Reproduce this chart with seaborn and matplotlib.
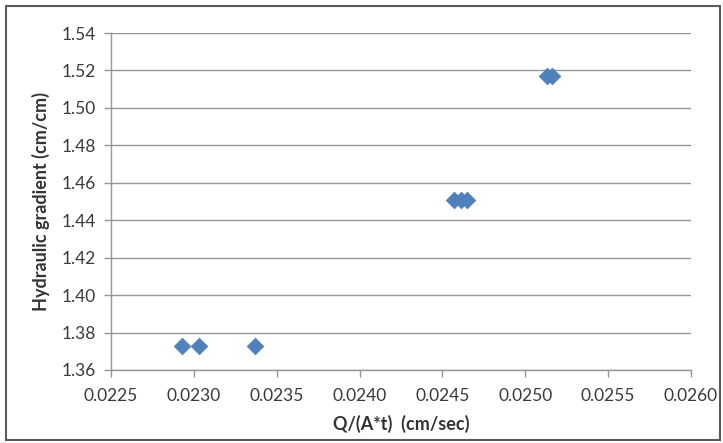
import numpy as np
import pandas as pd
import matplotlib
matplotlib.use("Agg")
import matplotlib.pyplot as plt
from matplotlib.patches import Rectangle
import seaborn as sns

# values
flow_rate = [0.02293, 0.02303, 0.02337,
             0.02457, 0.02461, 0.02465,
             0.02513, 0.02516]
gradient = [1.373, 1.373, 1.373,
            1.451, 1.451, 1.451,
            1.517, 1.517]
x_ticks = [0.0225, 0.0230, 0.0235, 0.0240, 0.0245, 0.0250, 0.0255, 0.0260]
y_ticks = [1.36, 1.38, 1.40, 1.42, 1.44, 1.46, 1.48, 1.50, 1.52, 1.54]

df = pd.DataFrame({"q": flow_rate, "i": gradient})

sns.set_style("white")
plt.rcParams["font.family"] = ["Lato", "DejaVu Sans"]

fig = plt.figure(figsize=(7.23, 4.43), dpi=100)
ax = fig.add_axes([111/723, 1 - 370/443, 580/723, 337/443])

sns.scatterplot(data=df, x="q", y="i", ax=ax, marker="D", s=72,
                color="#4f81bd", edgecolor="#4a7ebb", linewidth=0.5, zorder=3)

ax.set_xlim(0.0225, 0.0260)
ax.set_ylim(1.36, 1.54)
ax.set_xticks(x_ticks)
ax.set_xticklabels([f"{v:.4f}" for v in x_ticks])
ax.set_yticks(y_ticks)
ax.set_yticklabels([f"{v:.2f}" for v in y_ticks])

ax.yaxis.grid(True, color="#969696", linewidth=1)
ax.xaxis.grid(False)
ax.set_axisbelow(True)
for side in ["top", "right"]:
    ax.spines[side].set_visible(False)
for side in ["left", "bottom"]:
    ax.spines[side].set_color("#969696")
    ax.spines[side].set_linewidth(1)

ax.tick_params(axis="both", which="major", length=5, width=1, color="#969696",
               labelsize=12.5, labelcolor="#3a3a3a", direction="out",
               bottom=True, left=True)
ax.tick_params(axis="x", pad=8)
ax.tick_params(axis="y", pad=6)

ax.set_xlabel("Q/(A*t)  (cm/sec)", fontsize=13, fontweight="bold", color="#333333", labelpad=8)
ax.set_ylabel("Hydraulic gradient (cm/cm)", fontsize=13, fontweight="bold", color="#333333", labelpad=8)

fig.patches.append(Rectangle((6/723, 3/443), 714/723, 434/443, transform=fig.transFigure,
                             fill=False, edgecolor="#5a5a5a", linewidth=1.5))

fig.savefig("out.png", dpi=100)
